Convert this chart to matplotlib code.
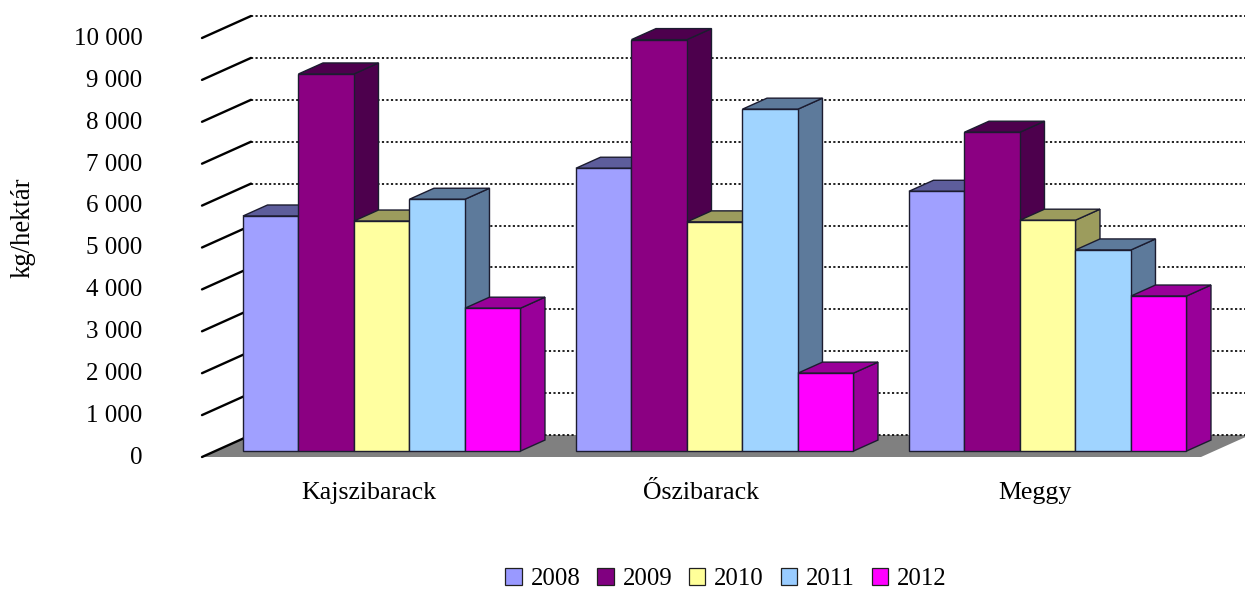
import matplotlib
matplotlib.use("Agg")
import matplotlib.pyplot as plt
from matplotlib.patches import Polygon, Patch
from matplotlib.transforms import ScaledTranslation

plt.rcParams['font.family'] = ['Liberation Serif', 'DejaVu Serif']

categories = ["Kajszibarack", "Őszibarack", "Meggy"]
years = ["2008", "2009", "2010", "2011", "2012"]
v2008 = [5610, 6750, 6200]
v2009 = [9000, 9820, 7610]
v2010 = [5490, 5470, 5510]
v2011 = [6010, 8160, 4800]
v2012 = [3410, 1860, 3700]
series = [v2008, v2009, v2010, v2011, v2012]
yticks = list(range(0, 10001, 1000))
ylabel = "kg/hektár"

front = ['#A0A0FF', '#8B0082', '#FFFFA0', '#A0D4FF', '#FF00FF']
top = ['#5D5D9B', '#4D004D', '#9C9C5D', '#5D7A9B', '#990099']
side = ['#5D5D9B', '#4D004D', '#9C9C5D', '#5D7A9B', '#990099']
legend_colors = ['#9999FF', '#800080', '#FFFF99', '#99CCFF', '#FF00FF']

W, H = 1245, 592
fig = plt.figure(figsize=(W / 100, H / 100), dpi=100)
ax = fig.add_axes([202 / W, (H - 457) / H, 999 / W, 419 / H])
ax.set_xlim(0, 3)
ax.set_ylim(0, 10000)
for s in ax.spines.values():
    s.set_visible(False)

# depth vector of the whole box, in data units
DX = 49 / 333
DY = 22 / 0.0419
D0, D1 = 0.27, 0.77
RIGHT_END = 3.2


def pt(x, v, d):
    return (x + DX * d, v + DY * d)


# floor
ax.add_patch(Polygon([pt(0, 0, 0), pt(3, 0, 0), pt(3, 0, 1), pt(0, 0, 1)],
                     closed=True, fc='#808080', ec='none', clip_on=False, zorder=1))

# walls: gridlines and left-wall ticks
for t in yticks:
    x0, y0 = pt(0, t, 0)
    x1, y1 = pt(0, t, 1)
    ax.plot([x0, x1], [y0, y1], color='black', lw=1.7, clip_on=False, zorder=1.5,
            solid_capstyle='round')
    ax.plot([x1, RIGHT_END], [y1, y1], color='#111111', lw=1.3,
            linestyle=(0, (1.2, 1.3)), clip_on=False, zorder=1.2)

# bars
z = 2
bw = 1 / 6
for c in range(len(categories)):
    for i, vals in enumerate(series):
        v = vals[c]
        x0 = c + (0.5 + i) * bw
        x1 = x0 + bw
        kw = dict(closed=True, ec='#1c1c30', lw=1.0, clip_on=False, zorder=z, joinstyle='miter')
        ax.add_patch(Polygon([pt(x1, 0, D0), pt(x1, 0, D1), pt(x1, v, D1), pt(x1, v, D0)],
                             fc=side[i], **kw))
        ax.add_patch(Polygon([pt(x0, v, D0), pt(x1, v, D0), pt(x1, v, D1), pt(x0, v, D1)],
                             fc=top[i], **kw))
        ax.add_patch(Polygon([pt(x0, 0, D0), pt(x1, 0, D0), pt(x1, v, D0), pt(x0, v, D0)],
                             fc=front[i], **kw))
        z += 0.01

# axes text
ax.set_yticks(yticks)
ax.set_yticklabels([f"{t:,}".replace(",", "\u00a0") for t in yticks], fontsize=18)
ax.tick_params(axis='y', length=0, pad=43)
shift = ScaledTranslation(0, 1.2 / 72, fig.dpi_scale_trans)
for lab in ax.get_yticklabels():
    lab.set_transform(lab.get_transform() + shift)
ax.set_xticks([0.5, 1.5, 2.5])
ax.set_xticklabels(categories, fontsize=18.6)
ax.tick_params(axis='x', length=0, pad=18)
fig.text(23 / W, 1 - 228 / H, ylabel, rotation=90, ha='center', va='center', fontsize=19.2)

handles = [Patch(fc=c, ec='#202020', lw=0.9, label=y) for c, y in zip(legend_colors, years)]
fig.legend(handles=handles, loc='center', bbox_to_anchor=(726 / W, 1 - 579 / H), ncols=5,
           frameon=False, fontsize=17.8, handlelength=0.66, handleheight=0.66,
           handletextpad=0.36, columnspacing=0.68, borderpad=0, borderaxespad=0)

fig.savefig("out.png", dpi=100)
